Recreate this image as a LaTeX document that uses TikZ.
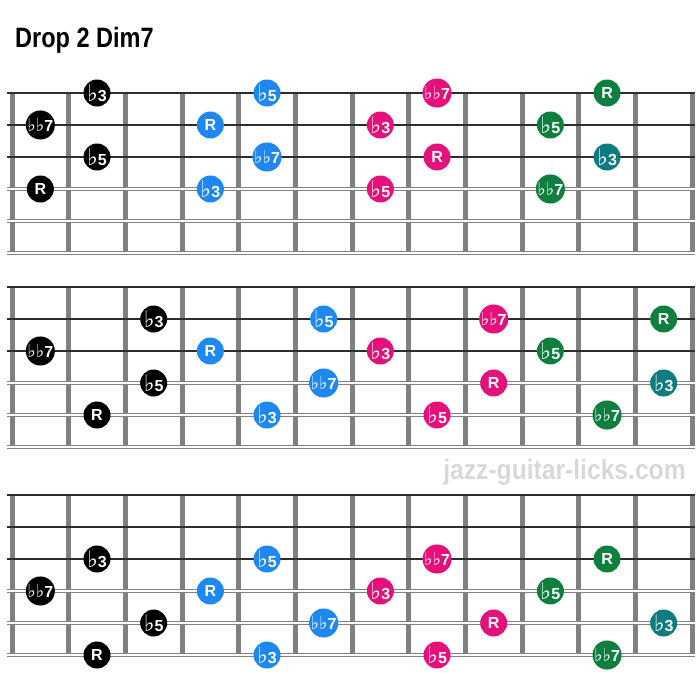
\documentclass[tikz,border=0pt]{standalone}
\usepackage{graphicx}
\usepackage{fontspec}
\setmainfont{Liberation Sans}
\newfontfamily\flatfont{DejaVu Sans}
\usetikzlibrary{shapes,arrows}
\definecolor{dotblue}{RGB}{30,136,240}
\definecolor{dotpink}{RGB}{229,16,122}
\definecolor{dotgreen}{RGB}{15,127,63}
\definecolor{dotteal}{RGB}{13,123,128}
\definecolor{fretgray}{RGB}{128,128,128}
\definecolor{stringgray}{RGB}{45,45,45}
\definecolor{woundgray}{RGB}{130,130,130}
\definecolor{markgray}{RGB}{216,216,216}
\tikzstyle{dot} = [circle, inner sep=0pt, minimum size=27pt, text=white,
    font=\bfseries\fontsize{16}{16}\selectfont]
\tikzstyle{blackdot} = [dot, fill=black]
\tikzstyle{bluedot} = [dot, fill=dotblue]
\tikzstyle{pinkdot} = [dot, fill=dotpink]
\tikzstyle{greendot} = [dot, fill=dotgreen]
\tikzstyle{tealdot} = [dot, fill=dotteal]
\tikzstyle{fret} = [draw=fretgray, line width=5pt]
\tikzstyle{thinstring} = [draw=stringgray, line width=1.3pt]
\tikzstyle{woundstring} = [draw=woundgray, line width=0.8pt, double=white, double distance=2pt]
\tikzstyle{title} = [anchor=base west, inner sep=0pt, font=\bfseries\fontsize{28}{28}\selectfont]
\tikzstyle{watermark} = [anchor=base, inner sep=0pt, text=markgray, font=\bfseries\fontsize{28}{28}\selectfont]
\newcommand{\flatsign}{{\flatfont\fontsize{23}{23}\selectfont\char"266D}}
\newcommand{\dflatsign}{{\flatfont\fontsize{18}{18}\selectfont\char"266D\char"266D}}

\begin{document}
\begin{tikzpicture}[x=1pt, y=-1pt]
        \useasboundingbox (0,0) rectangle (699,688);
        % Title and site name
        \node (title) [title] at (15,47) {\scalebox{0.84}[1]{Drop 2 Dim7}};
        \node (site) [watermark] at (564.5,479) {\scalebox{0.88}[1]{jazz-guitar-licks.com}};

        %Board 1
        \begin{scope}[shift={(12,93)}, x=56.67pt, y=-32pt]
        \foreach \f in {0,...,12} \draw[fret] (\f,0) -- (\f,5);
        \foreach \s in {0,1,2} \draw[thinstring] (-0.08,\s) -- (12.05,\s);
        \foreach \s in {3,4,5} \draw[woundstring] (-0.08,\s) -- (12.05,\s);
        \node (bk1b3) [blackdot] at (1.5,0) {\flatsign3};
        \node (bk1b7) [blackdot] at (0.5,1) {\dflatsign7};
        \node (bk1b5) [blackdot] at (1.5,2) {\flatsign5};
        \node (bk1r) [blackdot] at (0.5,3) {R};
        \node (bl1b5) [bluedot] at (4.5,0) {\flatsign5};
        \node (bl1r) [bluedot] at (3.5,1) {R};
        \node (bl1b7) [bluedot] at (4.5,2) {\dflatsign7};
        \node (bl1b3) [bluedot] at (3.5,3) {\flatsign3};
        \node (pk1b7) [pinkdot] at (7.5,0) {\dflatsign7};
        \node (pk1b3) [pinkdot] at (6.5,1) {\flatsign3};
        \node (pk1r) [pinkdot] at (7.5,2) {R};
        \node (pk1b5) [pinkdot] at (6.5,3) {\flatsign5};
        \node (gr1r) [greendot] at (10.5,0) {R};
        \node (gr1b5) [greendot] at (9.5,1) {\flatsign5};
        \node (tl1b3) [tealdot] at (10.5,2) {\flatsign3};
        \node (gr1b7) [greendot] at (9.5,3) {\dflatsign7};
        \end{scope}

        %Board 2
        \begin{scope}[shift={(12,287)}, x=56.67pt, y=-32pt]
        \foreach \f in {0,...,12} \draw[fret] (\f,0) -- (\f,5);
        \foreach \s in {0,1,2} \draw[thinstring] (-0.08,\s) -- (12.05,\s);
        \foreach \s in {3,4,5} \draw[woundstring] (-0.08,\s) -- (12.05,\s);
        \node (bk2b3) [blackdot] at (2.5,1) {\flatsign3};
        \node (bk2b7) [blackdot] at (0.5,2) {\dflatsign7};
        \node (bk2b5) [blackdot] at (2.5,3) {\flatsign5};
        \node (bk2r) [blackdot] at (1.5,4) {R};
        \node (bl2b5) [bluedot] at (5.5,1) {\flatsign5};
        \node (bl2r) [bluedot] at (3.5,2) {R};
        \node (bl2b7) [bluedot] at (5.5,3) {\dflatsign7};
        \node (bl2b3) [bluedot] at (4.5,4) {\flatsign3};
        \node (pk2b7) [pinkdot] at (8.5,1) {\dflatsign7};
        \node (pk2b3) [pinkdot] at (6.5,2) {\flatsign3};
        \node (pk2r) [pinkdot] at (8.5,3) {R};
        \node (pk2b5) [pinkdot] at (7.5,4) {\flatsign5};
        \node (gr2r) [greendot] at (11.5,1) {R};
        \node (gr2b5) [greendot] at (9.5,2) {\flatsign5};
        \node (tl2b3) [tealdot] at (11.5,3) {\flatsign3};
        \node (gr2b7) [greendot] at (10.5,4) {\dflatsign7};
        \end{scope}

        %Board 3
        \begin{scope}[shift={(12,495)}, x=56.67pt, y=-32pt]
        \foreach \f in {0,...,12} \draw[fret] (\f,0) -- (\f,5);
        \foreach \s in {0,1,2} \draw[thinstring] (-0.08,\s) -- (12.05,\s);
        \foreach \s in {3,4,5} \draw[woundstring] (-0.08,\s) -- (12.05,\s);
        \node (bk3b3) [blackdot] at (1.5,2) {\flatsign3};
        \node (bk3b7) [blackdot] at (0.5,3) {\dflatsign7};
        \node (bk3b5) [blackdot] at (2.5,4) {\flatsign5};
        \node (bk3r) [blackdot] at (1.5,5) {R};
        \node (bl3b5) [bluedot] at (4.5,2) {\flatsign5};
        \node (bl3r) [bluedot] at (3.5,3) {R};
        \node (bl3b7) [bluedot] at (5.5,4) {\dflatsign7};
        \node (bl3b3) [bluedot] at (4.5,5) {\flatsign3};
        \node (pk3b7) [pinkdot] at (7.5,2) {\dflatsign7};
        \node (pk3b3) [pinkdot] at (6.5,3) {\flatsign3};
        \node (pk3r) [pinkdot] at (8.5,4) {R};
        \node (pk3b5) [pinkdot] at (7.5,5) {\flatsign5};
        \node (gr3r) [greendot] at (10.5,2) {R};
        \node (gr3b5) [greendot] at (9.5,3) {\flatsign5};
        \node (tl3b3) [tealdot] at (11.5,4) {\flatsign3};
        \node (gr3b7) [greendot] at (10.5,5) {\dflatsign7};
        \end{scope}
    \end{tikzpicture}
\end{document}
